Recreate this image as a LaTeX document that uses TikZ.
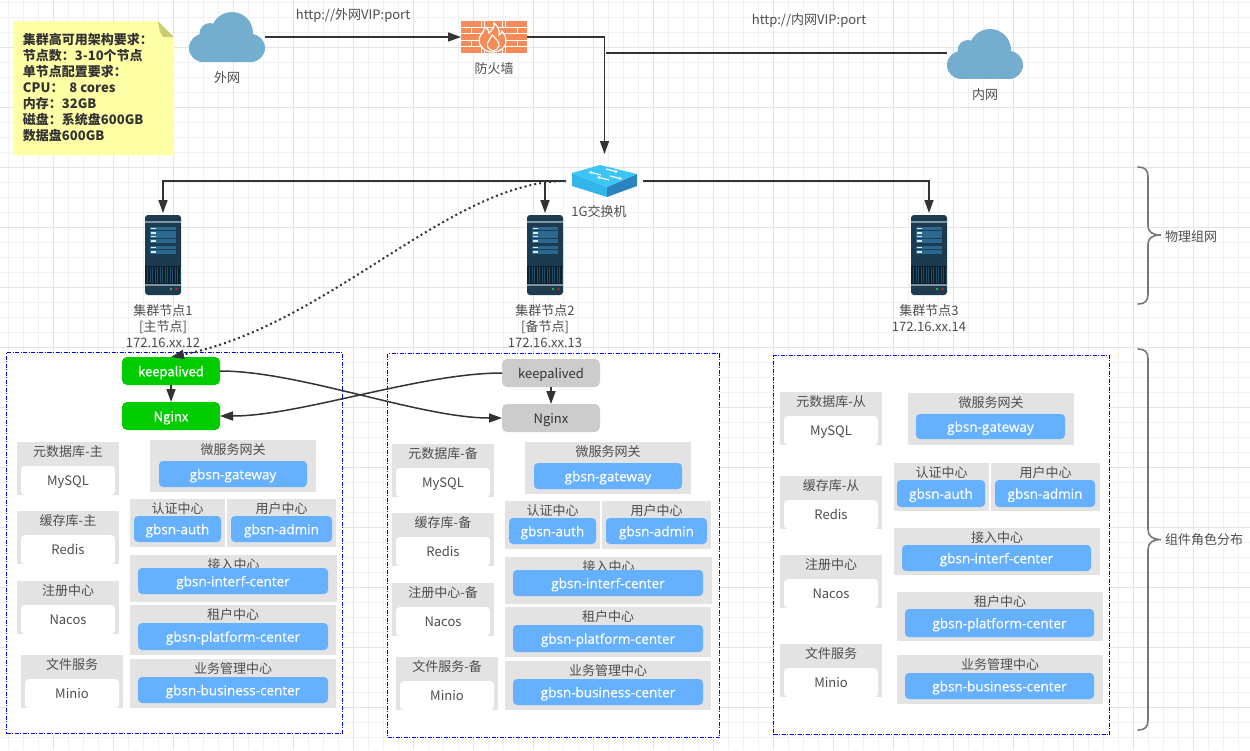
\documentclass[tikz,border=0pt]{standalone}
\usepackage{fontspec}
\setmainfont{Noto Sans CJK SC}
\newfontfamily\medf[FakeBold=0.5]{Noto Sans CJK SC}
\newfontfamily\svcf[FakeBold=0.3]{Open Sans}
\usetikzlibrary{arrows.meta,calc}
\definecolor{minorgrid}{HTML}{F1F1F1}
\definecolor{majorgrid}{HTML}{E4E4E4}
\definecolor{inktext}{HTML}{4D4D4D}
\definecolor{notetext}{HTML}{333333}
\definecolor{boxgray}{HTML}{E3E3E3}
\definecolor{svcblue}{HTML}{66B1FF}
\definecolor{kpgreen}{HTML}{00CC00}
\definecolor{kpgray}{HTML}{CCCCCC}
\definecolor{wire}{HTML}{333333}
\definecolor{cloudblue}{HTML}{74AECF}
\definecolor{brick}{HTML}{F58B58}
\definecolor{srvbody}{HTML}{1D3B4E}
\definecolor{srvstripe}{HTML}{2A6A90}
\definecolor{srvvent}{HTML}{0E1F2C}
\definecolor{srvline}{HTML}{7D94A3}
\definecolor{swtop}{HTML}{3CC6F6}
\definecolor{swleft}{HTML}{33B5EA}
\definecolor{swright}{HTML}{2A85BE}
\definecolor{notefill}{HTML}{FFFFA6}
\definecolor{notefold}{HTML}{CCCC77}
\definecolor{bracegray}{HTML}{777777}
\definecolor{panelblue}{HTML}{0000F0}
\tikzset{
  every node/.style={inner sep=0pt,outer sep=0pt,font=\fontsize{13}{16}\selectfont,text=inktext},
  conn/.style={draw=wire,line width=1.5pt},
  arrowconn/.style={conn,-{Triangle[length=13pt,width=9pt]}},
  dotconn/.style={draw=wire,line width=2pt,dash pattern=on 2pt off 3pt,-{Triangle[length=13pt,width=9pt]}},
  panelbox/.style={draw=panelblue,fill=white,line width=1pt,dash pattern=on 4pt off 1.5pt on 1pt off 1.5pt},
  graybox/.style={fill=boxgray},
  whitebox/.style={fill=white,rounded corners=4pt,text height=10.5pt,text depth=0pt},
  bluebox/.style={fill=svcblue,rounded corners=4pt,text=white,text height=10.5pt,text depth=0pt,font=\fontsize{13.5}{16}\svcf\selectfont},
  greenbox/.style={fill=kpgreen,rounded corners=5pt,text=white,text height=10.5pt,text depth=0pt,font=\fontsize{13}{16}\medf\selectfont},
  kpbox/.style={fill=kpgray,rounded corners=5pt,text=notetext,text height=10.5pt,text depth=0pt},
  bracepath/.style={draw=bracegray,line width=1.6pt,line cap=round},
}
\newcommand\bx[7]{\node[#1,minimum width={(#5)-(#3)},minimum height={(#6)-(#4)}] (#2) at ({((#3)+(#5))/2},{((#4)+(#6))/2}) {#7};}
% grey box with its title on top
\newcommand\tb[6]{\bx{graybox}{#1}{#2}{#3}{#4}{#5}{}\node (#1t) at ({((#2)+(#4))/2},{(#3)+9.5}) {#6};}
% data component: grey box, title, white inner box
\newcommand\dbx[5]{\tb{#1}{#2}{#3}{(#2)+102}{(#3)+53}{#4}\bx{whitebox}{#1i}{(#2)+4}{(#3)+24}{(#2)+98}{(#3)+53}{#5}}
\newcommand\stackAB[5]{%
  \dbx{#1a}{17+#2}{442+#3}{元数据库-#4}{MySQL}
  \dbx{#1b}{17+#2}{511+#3}{缓存库-#4}{Redis}
  \dbx{#1c}{17+#2}{581+#3}{注册中心#5}{Nacos}
  \dbx{#1d}{21+#2}{655+#3}{文件服务#5}{Minio}
  \tb{#1e}{150+#2}{440+#3}{316+#2}{492+#3}{微服务网关}
  \bx{bluebox}{#1eb}{159+#2}{461+#3}{307+#2}{487+#3}{gbsn-gateway}
  \tb{#1f}{130+#2}{499+#3}{225+#2}{547+#3}{认证中心}
  \bx{bluebox}{#1fb}{134+#2}{516+#3}{221+#2}{542+#3}{gbsn-auth}
  \tb{#1g}{227+#2}{499+#3}{336+#2}{547+#3}{用户中心}
  \bx{bluebox}{#1gb}{231+#2}{516+#3}{332+#2}{542+#3}{gbsn-admin}
  \tb{#1h}{130+#2}{555+#3}{337+#2}{602+#3}{接入中心}
  \bx{bluebox}{#1hb}{138+#2}{568+#3}{328+#2}{594+#3}{gbsn-interf-center}
  \tb{#1j}{130+#2}{605+#3}{336+#2}{655+#3}{租户中心}
  \bx{bluebox}{#1jb}{138+#2}{623+#3}{328+#2}{650+#3}{gbsn-platform-center}
  \tb{#1k}{130+#2}{659+#3}{336+#2}{708+#3}{业务管理中心}
  \bx{bluebox}{#1kb}{138+#2}{677+#3}{328+#2}{703+#3}{gbsn-business-center}
}
% icons: origin = top-left of the drawn icon
\newcommand\cloudicon[2]{\begin{scope}[shift={(#1,#2)}]
  \fill[cloudblue] (43,21) circle[radius=21];
  \fill[cloudblue] (21,21.5) circle[radius=10.5];
  \fill[cloudblue] (14,36) circle[radius=14];
  \fill[cloudblue] (62,36) circle[radius=14];
  \fill[cloudblue] (14,28) rectangle (62,50);
\end{scope}}
\newcommand\servericon[2]{\begin{scope}[shift={(#1,#2)}]
  \fill[srvbody,rounded corners=3pt] (0,0) rectangle (36,80);
  \fill[srvline] (0,6.2) rectangle (36,7.6);
  \foreach \yy in {12,20,31}{
    \fill[srvstripe] (5,\yy) rectangle (31,\yy+3.4);
    \fill[srvstripe] (5,\yy+4.3) rectangle (31,\yy+7.7);
    \fill[white!85!srvstripe] (6,\yy+1) rectangle (10.5,\yy+2.2);
    \fill[white!85!srvstripe] (6,\yy+5.3) rectangle (10.5,\yy+6.5);
  }
  \fill[srvvent] (0,51) rectangle (36,69);
  \foreach \xx in {2,4.5,...,34.5}{\fill[srvstripe!60!srvvent] (\xx,52) rectangle (\xx+0.8,68);}
  \fill[srvline] (0,69.3) rectangle (36,70.8);
  \fill[green!55!black!75!white] (26,74) circle[radius=1.3];
  \fill[red!70!black!85!white] (31.5,74) circle[radius=1.3];
\end{scope}}
\begin{document}
\begin{tikzpicture}[x=1pt,y=-1pt]
\useasboundingbox (0,0) rectangle (1250,750);
\fill[white] (0,0) rectangle (1250,750);
% grid
\foreach \gx in {8.5,23.5,...,1249}{\draw[minorgrid,line width=1pt] (\gx,0) -- (\gx,750);}
\foreach \gy in {2.5,17.5,...,749}{\draw[minorgrid,line width=1pt] (0,\gy) -- (1250,\gy);}
\foreach \gx in {53.5,113.5,...,1250}{\draw[majorgrid,line width=1pt] (\gx,0) -- (\gx,750);}
\foreach \gy in {47.5,107.5,...,749}{\draw[majorgrid,line width=1pt] (0,\gy) -- (1250,\gy);}
% note
\fill[notefill] (13,21) -- (158,21) -- (174,37) -- (174,155) -- (13,155) -- cycle;
\fill[notefold] (158,21) -- (174,37) -- (163,37) .. controls (160,33) .. (158,21);
\node[anchor=north west,align=left,text=notetext,font=\fontsize{13}{16}\selectfont\bfseries] (note) at (23,33.5) {集群高可用架构要求：\\节点数：3-10个节点\\单节点配置要求：\\CPU：\ \ 8 cores\\内存：32GB\\磁盘：系统盘600GB\\数据盘600GB};
% icons
\cloudicon{189}{12}
\cloudicon{947}{29}
\bx{}{wan}{189}{12}{265}{62}{}
\bx{}{lan}{947}{28}{1023}{78}{}
\node (wanl) at (227,78) {外网};
\node (lanl) at (985,95) {内网};
% firewall
\fill[brick] (461,21) rectangle (527,53);
\foreach \ry in {27.4,33.8,40.2,46.6}{\draw[white,line width=0.9pt] (461,\ry) -- (527,\ry);}
\foreach \bxx in {481.5,484,502,505.5}{\draw[white,line width=0.9pt] (\bxx,21) -- (\bxx,27.4) (\bxx,40.2) -- (\bxx,46.6) (\bxx,46.6) -- (\bxx,53);}
\foreach \bxx in {471,494,517}{\draw[white,line width=0.9pt] (\bxx,27.4) -- (\bxx,33.8) (\bxx,40.2) -- (\bxx,46.6);}
\fill[brick,draw=white,line width=1.2pt] (493,52) .. controls (484,52) and (479,46) .. (479,40) .. controls (479,35) and (484,33) .. (485,27) .. controls (488,29) and (489,31) .. (489,33) .. controls (492,30) and (495,27) .. (494,23) .. controls (498,26) and (500,31) .. (499,35) .. controls (501,34) and (502,33) .. (502,31) .. controls (505,35) and (506,38) .. (506,41) .. controls (506,47) and (501,52) .. (493,52) -- cycle;
\draw[white,line width=1.1pt] (493,51) .. controls (488,49) and (486,46) .. (488,42) .. controls (490,39) and (491,37) .. (492,35) .. controls (495,38) and (500,42) .. (499,46) .. controls (498,49) and (496,50) .. (493,51);
\bx{}{fw}{461}{21}{527}{53}{}
\node (fwl) at (494,69) {防火墙};
% switch
\fill[swleft] (572,173) -- (607,187) -- (607,197) -- (572,186) -- cycle;
\fill[swright] (607,187) -- (637,174) -- (637,186) -- (607,197) -- cycle;
\fill[swtop] (572,173) -- (600,165) -- (637,174) -- (607,187) -- cycle;
\draw[white,line width=1.2pt,{Stealth[length=3pt,width=3.5pt]}-] (589,172) -- (601,175);
\draw[white,line width=1.2pt,-{Stealth[length=3pt,width=3.5pt]}] (606,169) -- (618,172);
\draw[white,line width=1.2pt,{Stealth[length=3pt,width=3.5pt]}-] (597,177) -- (609,180);
\draw[white,line width=1.2pt,-{Stealth[length=3pt,width=3.5pt]}] (610,176) -- (622,179);
\bx{}{sw}{566}{154}{643}{208}{}
\node (swl) at (599,212) {1G交换机};
% servers
\servericon{145}{215}
\servericon{527}{215}
\servericon{911}{215}
\bx{}{s1}{145}{213}{181}{295}{}
\bx{}{s2}{527}{213}{563}{295}{}
\bx{}{s3}{911}{213}{947}{295}{}
\node[align=center] (s1l) at (163,326) {集群节点1\\{[主节点]}\\172.16.xx.12};
\node[align=center] (s2l) at (545,326) {集群节点2\\{[备节点]}\\172.16.xx.13};
\node[align=center] (s3l) at (929,318) {集群节点3\\172.16.xx.14};
% http labels
\node (httpa) at (353,16) {http://外网VIP:port};
\node (httpb) at (809,21) {http://内网VIP:port};
% panels
\bx{panelbox}{p1}{6.5}{352.5}{342.5}{733.5}{}
\bx{panelbox}{p2}{387.5}{353.5}{719.5}{737.5}{}
\bx{panelbox}{p3}{773.5}{355.5}{1109.5}{734.5}{}
\stackAB{a}{0}{0}{主}{}
\stackAB{b}{375}{2}{备}{-备}
% panel 3
\dbx{ca}{780}{392}{元数据库-从}{MySQL}
\dbx{cb}{780}{476}{缓存库-从}{Redis}
\dbx{cc}{780}{555}{注册中心}{Nacos}
\dbx{cd}{780}{644}{文件服务}{Minio}
\tb{ce}{908}{393}{1074}{445}{微服务网关}
\bx{bluebox}{ceb}{916}{414}{1065}{439}{gbsn-gateway}
\tb{cf}{894}{463}{989}{511}{认证中心}
\bx{bluebox}{cfb}{897}{480}{985}{507}{gbsn-auth}
\tb{cg}{991}{463}{1100}{511}{用户中心}
\bx{bluebox}{cgb}{995}{480}{1095}{507}{gbsn-admin}
\tb{ch}{894}{528}{1100}{575}{接入中心}
\bx{bluebox}{chb}{902}{545}{1091}{571}{gbsn-interf-center}
\tb{cj}{897}{592}{1103}{641}{租户中心}
\bx{bluebox}{cjb}{905}{609}{1094}{637}{gbsn-platform-center}
\tb{ck}{897}{655}{1103}{704}{业务管理中心}
\bx{bluebox}{ckb}{905}{673}{1094}{699}{gbsn-business-center}
% keepalived / nginx
\bx{greenbox}{kp1}{122}{357}{220}{385}{keepalived}
\bx{greenbox}{ng1}{122}{402}{220}{430}{Nginx}
\bx{kpbox}{kp2}{502}{359}{600}{387}{keepalived}
\bx{kpbox}{ng2}{502}{404}{600}{432}{Nginx}
% connectors
\coordinate (jn) at (606,53);
\draw[arrowconn] (wan.east) -- (fw.west);
\draw[arrowconn] (fw.east) -| (sw.north);
\draw[conn,line width=1.3pt] (lan.west) -- (jn);
\draw[arrowconn] (sw.west) -| (s1.north);
\draw[arrowconn] (sw.west) -| (s2.north);
\draw[arrowconn] (sw.east) -| (s3.north);
\draw[dotconn] (sw.west) .. controls (450,181) and (330,325) .. (kp1.north);
\draw[arrowconn] (kp1.south) -- (ng1.north);
\draw[arrowconn] (kp2.south) -- (ng2.north);
\draw[arrowconn] (kp1.east) .. controls (300,371) and (420,418) .. (ng2.west);
\draw[arrowconn] (kp2.west) .. controls (420,373) and (300,416) .. (ng1.east);
% braces
\draw[bracepath] (1138,167) .. controls (1145,167) and (1148,170) .. (1148,177) -- (1148,225) .. controls (1148,232) and (1152,235) .. (1161,235) .. controls (1152,235) and (1148,238) .. (1148,245) -- (1148,294) .. controls (1148,301) and (1145,304) .. (1138,304);
\draw[bracepath] (1138,349) .. controls (1145,349) and (1148,352) .. (1148,359) -- (1148,529) .. controls (1148,536) and (1152,539.5) .. (1161,539.5) .. controls (1152,539.5) and (1148,543) .. (1148,550) -- (1148,720) .. controls (1148,727) and (1145,730) .. (1138,730);
\node (brl1) at (1191,237) {物理组网};
\node (brl2) at (1204,540) {组件角色分布};
\end{tikzpicture}
\end{document}
